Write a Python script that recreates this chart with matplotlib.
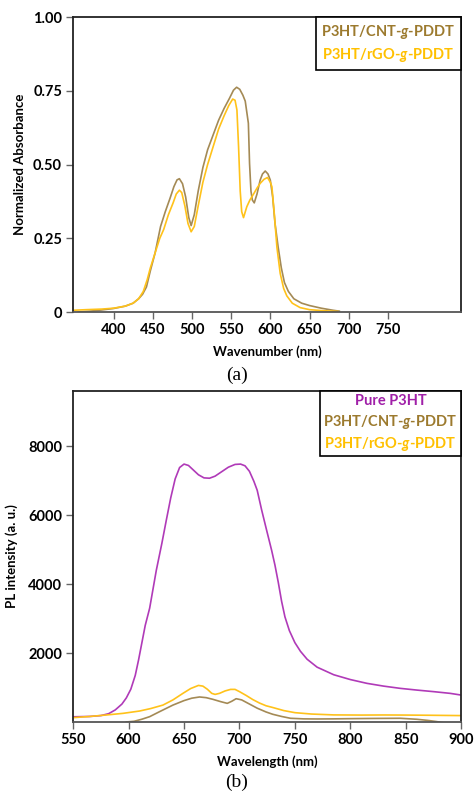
import matplotlib
matplotlib.use("Agg")
import matplotlib.pyplot as plt
from matplotlib.offsetbox import AnchoredOffsetbox, VPacker, TextArea

plt.rcParams['font.family'] = ['Lato', 'DejaVu Sans']
plt.rcParams['mathtext.fontset'] = 'custom'
plt.rcParams['mathtext.it'] = 'Lato:italic:bold'
plt.rcParams['mathtext.rm'] = 'Lato:bold'

# ---- (a) absorbance ----
abs_cnt_x = [355, 370, 385, 400, 415, 425, 432, 437, 442, 447, 453, 460, 466, 472, 477, 481, 484, 488,
             492, 496, 499, 503, 508, 514, 520, 527, 534, 541, 548, 553, 557, 561, 565, 568, 572, 573.5,
             575.3, 577, 579.5, 583, 587, 590, 593.5, 597, 600, 603, 606, 610, 614, 618, 623, 630, 640,
             650, 665, 680, 688]
abs_cnt_y = [0.0, 0.003, 0.007, 0.012, 0.02, 0.03, 0.045, 0.06, 0.085, 0.14, 0.2, 0.29, 0.34, 0.385,
             0.425, 0.448, 0.452, 0.435, 0.39, 0.32, 0.293, 0.33, 0.41, 0.49, 0.55, 0.6, 0.65, 0.69,
             0.725, 0.752, 0.762, 0.755, 0.735, 0.715, 0.64, 0.504, 0.41, 0.38, 0.37, 0.4, 0.447, 0.468,
             0.478, 0.468, 0.447, 0.39, 0.3, 0.22, 0.15, 0.1, 0.07, 0.045, 0.03, 0.022, 0.013, 0.006,
             0.003]

abs_rgo_x = [349, 365, 385, 400, 415, 425, 432, 438, 443, 447, 453, 459, 464, 470, 476, 480, 484, 487,
             491, 495, 499, 503, 508, 514, 520, 527, 534, 541, 547, 552, 555, 557.4, 559.5, 561.6, 563.5,
             565.8, 570, 574, 578.6, 583, 587, 592, 596.4, 600, 602, 605, 608.4, 612.6, 617, 621, 628,
             638, 650, 665, 686]
abs_rgo_y = [0.006, 0.008, 0.01, 0.013, 0.02, 0.03, 0.045, 0.07, 0.11, 0.15, 0.2, 0.25, 0.28, 0.33,
             0.37, 0.4, 0.413, 0.405, 0.36, 0.3, 0.272, 0.29, 0.36, 0.44, 0.5, 0.56, 0.62, 0.665, 0.7,
             0.722, 0.718, 0.685, 0.56, 0.41, 0.34, 0.32, 0.357, 0.38, 0.4, 0.42, 0.436, 0.45, 0.456,
             0.44, 0.425, 0.335, 0.22, 0.131, 0.08, 0.055, 0.03, 0.015, 0.008, 0.005, 0.002]

# ---- (b) photoluminescence ----
pl_pure_x = [550, 565, 575, 582, 588, 594, 598, 602, 606, 609, 612, 615, 619, 622, 625, 630, 634, 638,
             642, 646, 650, 654, 658, 663, 668, 673, 678, 684, 690, 696, 701, 705, 709, 713, 716, 720,
             724.5, 729, 732, 735, 738, 741, 745, 750, 755, 761, 770, 785, 800, 815, 830, 845, 860, 875,
             890, 900]
pl_pure_y = [150, 160, 185, 240, 350, 520, 700, 950, 1350, 1800, 2300, 2800, 3300, 3850, 4400, 5180,
             5850, 6500, 7050, 7380, 7480, 7440, 7320, 7170, 7080, 7070, 7130, 7260, 7390, 7470, 7480,
             7430, 7270, 6980, 6720, 6150, 5560, 4980, 4550, 4050, 3500, 3050, 2650, 2300, 2050, 1820,
             1590, 1370, 1230, 1120, 1040, 975, 925, 880, 830, 780]

pl_cnt_x = [598, 605, 612, 619, 628, 640, 650, 657, 664, 670, 676, 683, 689, 693, 697, 702, 709, 716,
            724, 730, 738, 746, 758, 770, 785, 800, 820, 845, 860, 870, 878, 885]
pl_cnt_y = [0, 20, 80, 154, 300, 490, 620, 690, 725, 705, 657, 590, 540, 600, 675, 640, 520, 400, 290,
            223, 160, 107, 90, 87, 90, 96, 102, 107, 78, 45, 10, -30]

pl_rgo_x = [550, 565, 580, 595, 610, 620, 631, 640, 649, 656, 663, 667, 671, 675, 678, 682, 687, 692,
            696, 700, 706, 712, 718, 724, 730, 740, 750, 765, 785, 810, 830, 850, 870, 900]
pl_rgo_y = [125, 160, 203, 250, 318, 390, 490, 640, 830, 970, 1060, 1040, 950, 830, 800, 830, 900, 945,
            945, 880, 770, 650, 550, 470, 420, 330, 270, 230, 205, 200, 203, 200, 195, 185]

c_pure = '#B03AB8'
c_cnt = '#A48A55'
c_rgo = '#FFC21A'
t_cnt = '#9C7A2E'
t_rgo = '#FFC000'
t_pure = '#A020A8'

fig = plt.figure(figsize=(4.75, 7.96), dpi=100)
ax1 = fig.add_axes([0.154, 0.608, 0.817, 0.3706])
ax2 = fig.add_axes([0.154, 0.093, 0.817, 0.4158])

ax1.plot(abs_cnt_x, abs_cnt_y, color=c_cnt, lw=1.2)
ax1.plot(abs_rgo_x, abs_rgo_y, color=c_rgo, lw=1.2)
ax1.set_xlim(348.5, 843.5)
ax1.set_ylim(0, 1.0)
ax1.set_xticks([400, 450, 500, 550, 600, 650, 700, 750])
ax1.set_yticks([0, 0.25, 0.5, 0.75, 1.0])
ax1.set_yticklabels(['0', '0.25', '0.50', '0.75', '1.00'])
ax1.set_xlabel('Wavenumber (nm)', fontsize=9.5, fontweight='bold', labelpad=6)
ax1.set_ylabel('Normalized Absorbance', fontsize=9.5, fontweight='bold', labelpad=5)

ax2.plot(pl_pure_x, pl_pure_y, color=c_pure, lw=1.2)
ax2.plot(pl_cnt_x, pl_cnt_y, color=c_cnt, lw=1.2)
ax2.plot(pl_rgo_x, pl_rgo_y, color=c_rgo, lw=1.2)
ax2.set_xlim(550, 900)
ax2.set_ylim(0, 9600)
ax2.set_xticks([550, 600, 650, 700, 750, 800, 850, 900])
ax2.set_yticks([2000, 4000, 6000, 8000])
ax2.set_xlabel('Wavelength (nm)', fontsize=9.5, fontweight='bold', labelpad=6)
ax2.set_ylabel('PL intensity (a. u.)', fontsize=9.5, fontweight='bold', labelpad=7)

for ax in (ax1, ax2):
    for s in ax.spines.values():
        s.set_color('#222222')
        s.set_linewidth(1.3)
    ax.spines['bottom'].set_color('#555555')
    ax.tick_params(direction='out', length=5, width=1.0, color='#666666',
                   labelsize=10.5, pad=3)
    for lab in ax.get_xticklabels() + ax.get_yticklabels():
        lab.set_fontweight('bold')


def text_box(ax, labels, colors, pad, sep):
    rows = [TextArea(l, textprops=dict(color=c, fontsize=10.5, fontweight='bold'))
            for l, c in zip(labels, colors)]
    pack = VPacker(children=rows, align='center', pad=0, sep=sep)
    box = AnchoredOffsetbox(loc='upper right', child=pack, pad=pad, borderpad=0, frameon=True)
    box.patch.set_edgecolor('black')
    box.patch.set_linewidth(1.2)
    box.patch.set_boxstyle('square', pad=0)
    ax.add_artist(box)


text_box(ax1, ['P3HT/CNT-$g$-PDDT', 'P3HT/rGO-$g$-PDDT'], [t_cnt, t_rgo], 0.4, 4)
text_box(ax2, ['Pure P3HT', 'P3HT/CNT-$g$-PDDT', 'P3HT/rGO-$g$-PDDT'], [t_pure, t_cnt, t_rgo], 0.25, 3)

fig.text(0.499, 0.529, '(a)', ha='center', va='center', fontsize=14, family='Liberation Serif')
fig.text(0.499, 0.0176, '(b)', ha='center', va='center', fontsize=14, family='Liberation Serif')

fig.savefig('out.png', dpi=100)
